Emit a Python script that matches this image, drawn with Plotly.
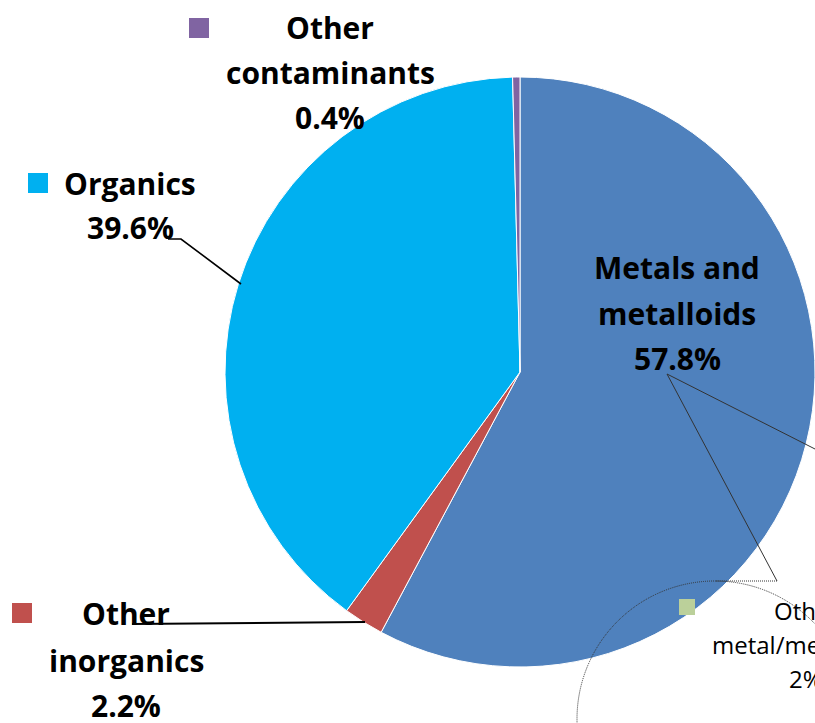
import plotly.graph_objects as go

# Share of records by contaminant group (%)
categories = ["Metals and metalloids", "Other inorganics", "Organics", "Other contaminants"]
shares = [57.8, 2.2, 39.6, 0.4]
slice_colors = ["#4F81BD", "#C0504D", "#00B0F0", "#8064A2"]

# Split-out part of the metals slice
sub_category = "Other metal/metalloids"
sub_share = 2
sub_color = "#BBD09A"

W, H = 815, 723


def px(x):
    return x / W


def py(y):
    return 1 - y / H


fig = go.Figure(
    go.Pie(
        labels=categories,
        values=shares,
        sort=False,
        direction="clockwise",
        rotation=0,
        textinfo="none",
        hoverinfo="label+percent",
        marker=dict(colors=slice_colors, line=dict(color="white", width=1)),
        domain=dict(x=[px(225), 1], y=[py(667), py(77)]),
        showlegend=False,
    )
)

bold = dict(family="Open Sans", size=30, color="black")
regular = dict(family="Open Sans", size=24, color="black")

annotations = []
shapes = []


def add_label(lines, cx, ys, font, weight_bold=True):
    for text, y in zip(lines, ys):
        t = f"<b>{text}</b>" if weight_bold else text
        annotations.append(dict(
            x=px(cx), y=py(y), xref="paper", yref="paper",
            text=t, showarrow=False, font=font,
            xanchor="center", yanchor="middle",
        ))


def add_square(x0, y0, size, color):
    shapes.append(dict(
        type="rect", xref="paper", yref="paper",
        x0=px(x0), x1=px(x0 + size), y0=py(y0 + size), y1=py(y0),
        fillcolor=color, line=dict(width=0),
    ))


def add_path(points, color="black", width=1.5, dash="solid"):
    d = "M " + " L ".join(f"{px(x)} {py(y)}" for x, y in points)
    shapes.append(dict(
        type="path", xref="paper", yref="paper", path=d,
        line=dict(color=color, width=width, dash=dash),
    ))


metals, inorg, organics, other = categories
v_metals, v_inorg, v_org, v_other = shares
c_metals, c_inorg, c_org, c_other = slice_colors

# Other contaminants
add_label(["Other", "contaminants", f"{v_other}%"], 330, [28, 73, 118], bold)
add_square(189, 18, 20, c_other)

# Organics
add_label(["Organics", f"{v_org}%"], 130, [183, 227], bold)
add_square(28, 173, 20, c_org)
add_path([(168, 239), (181, 239), (241, 284)], width=1.6)

# Metals and metalloids
add_label(["Metals and", "metalloids", f"{v_metals}%"], 677, [267, 313, 358], bold)

# Other inorganics
add_label(["Other", "inorganics", f"{v_inorg}%"], 126, [613, 660, 705], bold)
add_square(12, 603, 20, c_inorg)
add_path([(132, 624), (365, 622)], width=2)

# Split-out metals detail
sub_words = sub_category.split(" ")
add_label([sub_words[0], sub_words[1], f"{sub_share}%"], 806, [610, 644, 678], regular, weight_bold=False)
add_square(679, 599, 16, sub_color)

# Connector lines towards the secondary circle
fine_dots = "1px,1px"
add_path([(667, 374), (815, 449)], color="#333333", width=1)
add_path([(667, 374), (777, 581)], color="#333333", width=1)
add_path([(777, 581), (715, 581)], color="#333333", width=1, dash=fine_dots)
shapes.append(dict(
    type="circle", xref="paper", yref="paper",
    x0=px(715 - 138), x1=px(715 + 138), y0=py(719 + 138), y1=py(719 - 138),
    line=dict(color="#333333", width=1, dash=fine_dots),
))

fig.update_layout(
    width=W, height=H,
    margin=dict(l=0, r=0, t=0, b=0),
    paper_bgcolor="white",
    plot_bgcolor="white",
    annotations=annotations,
    shapes=shapes,
)

fig.write_html("out.html")
